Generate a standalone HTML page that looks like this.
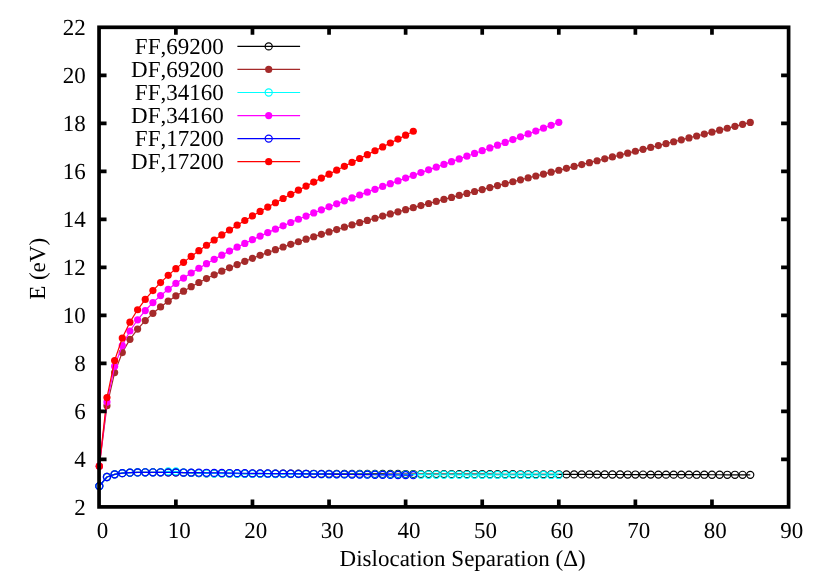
<!DOCTYPE html>
<html><head><meta charset="utf-8"><title>E vs Dislocation Separation</title>
<style>
html,body{margin:0;padding:0;background:#fff;}
svg{display:block;will-change:transform;}
text{font-family:"Liberation Serif",serif;font-size:23px;fill:#000;font-kerning:none;text-rendering:geometricPrecision;}
</style></head><body>
<svg width="830" height="581" viewBox="0 0 830 581">
<rect x="0" y="0" width="830" height="581" fill="#fff"/>

<g stroke="#000000" stroke-width="1.2" fill="none">
<text x="223.7" y="53.90" text-anchor="end" stroke="none">FF,69200</text>
<path d="M237.4 46.40H300.1"/>
<path d="M99.30 486.12L106.96 477.00L114.62 474.36L122.28 473.16L129.93 472.68L137.59 472.44L145.25 472.32L152.91 472.32L160.57 472.32L168.22 472.44L175.88 472.44L183.54 472.65L191.20 472.86L198.86 473.07L206.52 473.28L214.18 473.34L221.83 473.40L229.49 473.46L237.15 473.52L244.81 473.58L252.47 473.64L260.12 473.66L267.78 473.68L275.44 473.70L283.10 473.72L290.76 473.74L298.42 473.76L306.07 473.78L313.73 473.80L321.39 473.82L329.05 473.84L336.71 473.86L344.37 473.88L352.02 473.90L359.68 473.91L367.34 473.93L375.00 473.95L382.66 473.97L390.32 473.99L397.98 474.01L405.63 474.03L413.29 474.05L420.95 474.07L428.61 474.09L436.27 474.10L443.93 474.12L451.58 474.14L459.24 474.15L466.90 474.17L474.56 474.18L482.22 474.20L489.88 474.22L497.53 474.23L505.19 474.25L512.85 474.26L520.51 474.28L528.17 474.30L535.82 474.31L543.48 474.33L551.14 474.34L558.80 474.36L566.46 474.38L574.12 474.40L581.77 474.42L589.43 474.44L597.09 474.46L604.75 474.48L612.41 474.49L620.07 474.51L627.72 474.53L635.38 474.55L643.04 474.57L650.70 474.59L658.36 474.61L666.02 474.63L673.67 474.65L681.33 474.67L688.99 474.69L696.65 474.71L704.31 474.72L711.97 474.74L719.62 474.76L727.28 474.78L734.94 474.80L742.60 474.82L750.26 474.84" stroke-linejoin="round"/>
<circle cx="268.7" cy="46.40" r="3.55"/>
<circle cx="99.30" cy="486.12" r="3.55"/>
<circle cx="106.96" cy="477.00" r="3.55"/>
<circle cx="114.62" cy="474.36" r="3.55"/>
<circle cx="122.28" cy="473.16" r="3.55"/>
<circle cx="129.93" cy="472.68" r="3.55"/>
<circle cx="137.59" cy="472.44" r="3.55"/>
<circle cx="145.25" cy="472.32" r="3.55"/>
<circle cx="152.91" cy="472.32" r="3.55"/>
<circle cx="160.57" cy="472.32" r="3.55"/>
<circle cx="168.22" cy="472.44" r="3.55"/>
<circle cx="175.88" cy="472.44" r="3.55"/>
<circle cx="183.54" cy="472.65" r="3.55"/>
<circle cx="191.20" cy="472.86" r="3.55"/>
<circle cx="198.86" cy="473.07" r="3.55"/>
<circle cx="206.52" cy="473.28" r="3.55"/>
<circle cx="214.18" cy="473.34" r="3.55"/>
<circle cx="221.83" cy="473.40" r="3.55"/>
<circle cx="229.49" cy="473.46" r="3.55"/>
<circle cx="237.15" cy="473.52" r="3.55"/>
<circle cx="244.81" cy="473.58" r="3.55"/>
<circle cx="252.47" cy="473.64" r="3.55"/>
<circle cx="260.12" cy="473.66" r="3.55"/>
<circle cx="267.78" cy="473.68" r="3.55"/>
<circle cx="275.44" cy="473.70" r="3.55"/>
<circle cx="283.10" cy="473.72" r="3.55"/>
<circle cx="290.76" cy="473.74" r="3.55"/>
<circle cx="298.42" cy="473.76" r="3.55"/>
<circle cx="306.07" cy="473.78" r="3.55"/>
<circle cx="313.73" cy="473.80" r="3.55"/>
<circle cx="321.39" cy="473.82" r="3.55"/>
<circle cx="329.05" cy="473.84" r="3.55"/>
<circle cx="336.71" cy="473.86" r="3.55"/>
<circle cx="344.37" cy="473.88" r="3.55"/>
<circle cx="352.02" cy="473.90" r="3.55"/>
<circle cx="359.68" cy="473.91" r="3.55"/>
<circle cx="367.34" cy="473.93" r="3.55"/>
<circle cx="375.00" cy="473.95" r="3.55"/>
<circle cx="382.66" cy="473.97" r="3.55"/>
<circle cx="390.32" cy="473.99" r="3.55"/>
<circle cx="397.98" cy="474.01" r="3.55"/>
<circle cx="405.63" cy="474.03" r="3.55"/>
<circle cx="413.29" cy="474.05" r="3.55"/>
<circle cx="420.95" cy="474.07" r="3.55"/>
<circle cx="428.61" cy="474.09" r="3.55"/>
<circle cx="436.27" cy="474.10" r="3.55"/>
<circle cx="443.93" cy="474.12" r="3.55"/>
<circle cx="451.58" cy="474.14" r="3.55"/>
<circle cx="459.24" cy="474.15" r="3.55"/>
<circle cx="466.90" cy="474.17" r="3.55"/>
<circle cx="474.56" cy="474.18" r="3.55"/>
<circle cx="482.22" cy="474.20" r="3.55"/>
<circle cx="489.88" cy="474.22" r="3.55"/>
<circle cx="497.53" cy="474.23" r="3.55"/>
<circle cx="505.19" cy="474.25" r="3.55"/>
<circle cx="512.85" cy="474.26" r="3.55"/>
<circle cx="520.51" cy="474.28" r="3.55"/>
<circle cx="528.17" cy="474.30" r="3.55"/>
<circle cx="535.82" cy="474.31" r="3.55"/>
<circle cx="543.48" cy="474.33" r="3.55"/>
<circle cx="551.14" cy="474.34" r="3.55"/>
<circle cx="558.80" cy="474.36" r="3.55"/>
<circle cx="566.46" cy="474.38" r="3.55"/>
<circle cx="574.12" cy="474.40" r="3.55"/>
<circle cx="581.77" cy="474.42" r="3.55"/>
<circle cx="589.43" cy="474.44" r="3.55"/>
<circle cx="597.09" cy="474.46" r="3.55"/>
<circle cx="604.75" cy="474.48" r="3.55"/>
<circle cx="612.41" cy="474.49" r="3.55"/>
<circle cx="620.07" cy="474.51" r="3.55"/>
<circle cx="627.72" cy="474.53" r="3.55"/>
<circle cx="635.38" cy="474.55" r="3.55"/>
<circle cx="643.04" cy="474.57" r="3.55"/>
<circle cx="650.70" cy="474.59" r="3.55"/>
<circle cx="658.36" cy="474.61" r="3.55"/>
<circle cx="666.02" cy="474.63" r="3.55"/>
<circle cx="673.67" cy="474.65" r="3.55"/>
<circle cx="681.33" cy="474.67" r="3.55"/>
<circle cx="688.99" cy="474.69" r="3.55"/>
<circle cx="696.65" cy="474.71" r="3.55"/>
<circle cx="704.31" cy="474.72" r="3.55"/>
<circle cx="711.97" cy="474.74" r="3.55"/>
<circle cx="719.62" cy="474.76" r="3.55"/>
<circle cx="727.28" cy="474.78" r="3.55"/>
<circle cx="734.94" cy="474.80" r="3.55"/>
<circle cx="742.60" cy="474.82" r="3.55"/>
<circle cx="750.26" cy="474.84" r="3.55"/>
</g>
<g stroke="#a52a2a" stroke-width="1.2" fill="none">
<text x="223.7" y="76.95" text-anchor="end" stroke="none">DF,69200</text>
<path d="M237.4 69.45H300.1"/>
<path d="M99.30 466.20L106.96 405.77L114.62 372.60L122.28 352.56L129.93 339.35L137.59 329.08L145.25 320.60L152.91 313.33L160.57 306.93L168.22 301.19L175.88 295.97L183.54 291.16L191.20 286.69L198.86 282.49L206.52 278.54L214.18 274.79L221.83 271.22L229.49 267.81L237.15 264.53L244.81 261.37L252.47 258.31L260.12 255.36L267.78 252.49L275.44 249.71L283.10 246.99L290.76 244.34L298.42 241.75L306.07 239.21L313.73 236.73L321.39 234.29L329.05 231.89L336.71 229.54L344.37 227.22L352.02 224.93L359.68 222.68L367.34 220.46L375.00 218.26L382.66 216.09L390.32 213.94L397.98 211.82L405.63 209.71L413.29 207.63L420.95 205.56L428.61 203.51L436.27 201.47L443.93 199.45L451.58 197.44L459.24 195.45L466.90 193.46L474.56 191.49L482.22 189.53L489.88 187.57L497.53 185.62L505.19 183.68L512.85 181.75L520.51 179.82L528.17 177.90L535.82 175.98L543.48 174.07L551.14 172.16L558.80 170.26L566.46 168.36L574.12 166.45L581.77 164.56L589.43 162.66L597.09 160.76L604.75 158.86L612.41 156.97L620.07 155.07L627.72 153.17L635.38 151.27L643.04 149.37L650.70 147.47L658.36 145.56L666.02 143.65L673.67 141.74L681.33 139.83L688.99 137.91L696.65 135.99L704.31 134.06L711.97 132.13L719.62 130.19L727.28 128.25L734.94 126.30L742.60 124.35L750.26 122.39" stroke-linejoin="round"/>
<g fill="#a52a2a" stroke="none">
<circle cx="268.7" cy="69.45" r="3.6"/>
<circle cx="99.30" cy="466.20" r="3.6"/>
<circle cx="106.96" cy="405.77" r="3.6"/>
<circle cx="114.62" cy="372.60" r="3.6"/>
<circle cx="122.28" cy="352.56" r="3.6"/>
<circle cx="129.93" cy="339.35" r="3.6"/>
<circle cx="137.59" cy="329.08" r="3.6"/>
<circle cx="145.25" cy="320.60" r="3.6"/>
<circle cx="152.91" cy="313.33" r="3.6"/>
<circle cx="160.57" cy="306.93" r="3.6"/>
<circle cx="168.22" cy="301.19" r="3.6"/>
<circle cx="175.88" cy="295.97" r="3.6"/>
<circle cx="183.54" cy="291.16" r="3.6"/>
<circle cx="191.20" cy="286.69" r="3.6"/>
<circle cx="198.86" cy="282.49" r="3.6"/>
<circle cx="206.52" cy="278.54" r="3.6"/>
<circle cx="214.18" cy="274.79" r="3.6"/>
<circle cx="221.83" cy="271.22" r="3.6"/>
<circle cx="229.49" cy="267.81" r="3.6"/>
<circle cx="237.15" cy="264.53" r="3.6"/>
<circle cx="244.81" cy="261.37" r="3.6"/>
<circle cx="252.47" cy="258.31" r="3.6"/>
<circle cx="260.12" cy="255.36" r="3.6"/>
<circle cx="267.78" cy="252.49" r="3.6"/>
<circle cx="275.44" cy="249.71" r="3.6"/>
<circle cx="283.10" cy="246.99" r="3.6"/>
<circle cx="290.76" cy="244.34" r="3.6"/>
<circle cx="298.42" cy="241.75" r="3.6"/>
<circle cx="306.07" cy="239.21" r="3.6"/>
<circle cx="313.73" cy="236.73" r="3.6"/>
<circle cx="321.39" cy="234.29" r="3.6"/>
<circle cx="329.05" cy="231.89" r="3.6"/>
<circle cx="336.71" cy="229.54" r="3.6"/>
<circle cx="344.37" cy="227.22" r="3.6"/>
<circle cx="352.02" cy="224.93" r="3.6"/>
<circle cx="359.68" cy="222.68" r="3.6"/>
<circle cx="367.34" cy="220.46" r="3.6"/>
<circle cx="375.00" cy="218.26" r="3.6"/>
<circle cx="382.66" cy="216.09" r="3.6"/>
<circle cx="390.32" cy="213.94" r="3.6"/>
<circle cx="397.98" cy="211.82" r="3.6"/>
<circle cx="405.63" cy="209.71" r="3.6"/>
<circle cx="413.29" cy="207.63" r="3.6"/>
<circle cx="420.95" cy="205.56" r="3.6"/>
<circle cx="428.61" cy="203.51" r="3.6"/>
<circle cx="436.27" cy="201.47" r="3.6"/>
<circle cx="443.93" cy="199.45" r="3.6"/>
<circle cx="451.58" cy="197.44" r="3.6"/>
<circle cx="459.24" cy="195.45" r="3.6"/>
<circle cx="466.90" cy="193.46" r="3.6"/>
<circle cx="474.56" cy="191.49" r="3.6"/>
<circle cx="482.22" cy="189.53" r="3.6"/>
<circle cx="489.88" cy="187.57" r="3.6"/>
<circle cx="497.53" cy="185.62" r="3.6"/>
<circle cx="505.19" cy="183.68" r="3.6"/>
<circle cx="512.85" cy="181.75" r="3.6"/>
<circle cx="520.51" cy="179.82" r="3.6"/>
<circle cx="528.17" cy="177.90" r="3.6"/>
<circle cx="535.82" cy="175.98" r="3.6"/>
<circle cx="543.48" cy="174.07" r="3.6"/>
<circle cx="551.14" cy="172.16" r="3.6"/>
<circle cx="558.80" cy="170.26" r="3.6"/>
<circle cx="566.46" cy="168.36" r="3.6"/>
<circle cx="574.12" cy="166.45" r="3.6"/>
<circle cx="581.77" cy="164.56" r="3.6"/>
<circle cx="589.43" cy="162.66" r="3.6"/>
<circle cx="597.09" cy="160.76" r="3.6"/>
<circle cx="604.75" cy="158.86" r="3.6"/>
<circle cx="612.41" cy="156.97" r="3.6"/>
<circle cx="620.07" cy="155.07" r="3.6"/>
<circle cx="627.72" cy="153.17" r="3.6"/>
<circle cx="635.38" cy="151.27" r="3.6"/>
<circle cx="643.04" cy="149.37" r="3.6"/>
<circle cx="650.70" cy="147.47" r="3.6"/>
<circle cx="658.36" cy="145.56" r="3.6"/>
<circle cx="666.02" cy="143.65" r="3.6"/>
<circle cx="673.67" cy="141.74" r="3.6"/>
<circle cx="681.33" cy="139.83" r="3.6"/>
<circle cx="688.99" cy="137.91" r="3.6"/>
<circle cx="696.65" cy="135.99" r="3.6"/>
<circle cx="704.31" cy="134.06" r="3.6"/>
<circle cx="711.97" cy="132.13" r="3.6"/>
<circle cx="719.62" cy="130.19" r="3.6"/>
<circle cx="727.28" cy="128.25" r="3.6"/>
<circle cx="734.94" cy="126.30" r="3.6"/>
<circle cx="742.60" cy="124.35" r="3.6"/>
<circle cx="750.26" cy="122.39" r="3.6"/>
</g>
</g>
<g stroke="#00ffff" stroke-width="1.2" fill="none">
<text x="223.7" y="100.00" text-anchor="end" stroke="none">FF,34160</text>
<path d="M237.4 92.50H300.1"/>
<path d="M99.30 486.12L106.96 477.00L114.62 474.36L122.28 473.16L129.93 472.68L137.59 472.44L145.25 472.32L152.91 472.32L160.57 472.32L168.22 471.36L175.88 471.36L183.54 472.68L191.20 472.92L198.86 473.16L206.52 473.40L214.18 473.48L221.83 473.56L229.49 473.64L237.15 473.72L244.81 473.80L252.47 473.88L260.12 473.92L267.78 473.96L275.44 473.99L283.10 474.03L290.76 474.07L298.42 474.11L306.07 474.15L313.73 474.19L321.39 474.22L329.05 474.26L336.71 474.30L344.37 474.34L352.02 474.38L359.68 474.41L367.34 474.45L375.00 474.49L382.66 474.53L390.32 474.57L397.98 474.61L405.63 474.64L413.29 474.68L420.95 474.72L428.61 474.73L436.27 474.75L443.93 474.76L451.58 474.77L459.24 474.79L466.90 474.80L474.56 474.81L482.22 474.83L489.88 474.84L497.53 474.85L505.19 474.87L512.85 474.88L520.51 474.89L528.17 474.91L535.82 474.92L543.48 474.93L551.14 474.95L558.80 474.96" stroke-linejoin="round"/>
<circle cx="268.7" cy="92.50" r="3.55"/>
<circle cx="99.30" cy="486.12" r="3.55"/>
<circle cx="106.96" cy="477.00" r="3.55"/>
<circle cx="114.62" cy="474.36" r="3.55"/>
<circle cx="122.28" cy="473.16" r="3.55"/>
<circle cx="129.93" cy="472.68" r="3.55"/>
<circle cx="137.59" cy="472.44" r="3.55"/>
<circle cx="145.25" cy="472.32" r="3.55"/>
<circle cx="152.91" cy="472.32" r="3.55"/>
<circle cx="160.57" cy="472.32" r="3.55"/>
<circle cx="168.22" cy="471.36" r="3.55"/>
<circle cx="175.88" cy="471.36" r="3.55"/>
<circle cx="183.54" cy="472.68" r="3.55"/>
<circle cx="191.20" cy="472.92" r="3.55"/>
<circle cx="198.86" cy="473.16" r="3.55"/>
<circle cx="206.52" cy="473.40" r="3.55"/>
<circle cx="214.18" cy="473.48" r="3.55"/>
<circle cx="221.83" cy="473.56" r="3.55"/>
<circle cx="229.49" cy="473.64" r="3.55"/>
<circle cx="237.15" cy="473.72" r="3.55"/>
<circle cx="244.81" cy="473.80" r="3.55"/>
<circle cx="252.47" cy="473.88" r="3.55"/>
<circle cx="260.12" cy="473.92" r="3.55"/>
<circle cx="267.78" cy="473.96" r="3.55"/>
<circle cx="275.44" cy="473.99" r="3.55"/>
<circle cx="283.10" cy="474.03" r="3.55"/>
<circle cx="290.76" cy="474.07" r="3.55"/>
<circle cx="298.42" cy="474.11" r="3.55"/>
<circle cx="306.07" cy="474.15" r="3.55"/>
<circle cx="313.73" cy="474.19" r="3.55"/>
<circle cx="321.39" cy="474.22" r="3.55"/>
<circle cx="329.05" cy="474.26" r="3.55"/>
<circle cx="336.71" cy="474.30" r="3.55"/>
<circle cx="344.37" cy="474.34" r="3.55"/>
<circle cx="352.02" cy="474.38" r="3.55"/>
<circle cx="359.68" cy="474.41" r="3.55"/>
<circle cx="367.34" cy="474.45" r="3.55"/>
<circle cx="375.00" cy="474.49" r="3.55"/>
<circle cx="382.66" cy="474.53" r="3.55"/>
<circle cx="390.32" cy="474.57" r="3.55"/>
<circle cx="397.98" cy="474.61" r="3.55"/>
<circle cx="405.63" cy="474.64" r="3.55"/>
<circle cx="413.29" cy="474.68" r="3.55"/>
<circle cx="420.95" cy="474.72" r="3.55"/>
<circle cx="428.61" cy="474.73" r="3.55"/>
<circle cx="436.27" cy="474.75" r="3.55"/>
<circle cx="443.93" cy="474.76" r="3.55"/>
<circle cx="451.58" cy="474.77" r="3.55"/>
<circle cx="459.24" cy="474.79" r="3.55"/>
<circle cx="466.90" cy="474.80" r="3.55"/>
<circle cx="474.56" cy="474.81" r="3.55"/>
<circle cx="482.22" cy="474.83" r="3.55"/>
<circle cx="489.88" cy="474.84" r="3.55"/>
<circle cx="497.53" cy="474.85" r="3.55"/>
<circle cx="505.19" cy="474.87" r="3.55"/>
<circle cx="512.85" cy="474.88" r="3.55"/>
<circle cx="520.51" cy="474.89" r="3.55"/>
<circle cx="528.17" cy="474.91" r="3.55"/>
<circle cx="535.82" cy="474.92" r="3.55"/>
<circle cx="543.48" cy="474.93" r="3.55"/>
<circle cx="551.14" cy="474.95" r="3.55"/>
<circle cx="558.80" cy="474.96" r="3.55"/>
</g>
<g stroke="#ff00ff" stroke-width="1.2" fill="none">
<text x="223.7" y="123.05" text-anchor="end" stroke="none">DF,34160</text>
<path d="M237.4 115.55H300.1"/>
<path d="M99.30 466.20L106.96 402.03L114.62 366.28L122.28 345.55L129.93 331.02L137.59 319.78L145.25 310.53L152.91 302.60L160.57 295.60L168.22 289.27L175.88 283.47L183.54 278.08L191.20 273.02L198.86 268.24L206.52 263.69L214.18 259.33L221.83 255.14L229.49 251.09L237.15 247.18L244.81 243.39L252.47 239.69L260.12 236.10L267.78 232.58L275.44 229.15L283.10 225.79L290.76 222.49L298.42 219.25L306.07 216.07L313.73 212.94L321.39 209.85L329.05 206.81L336.71 203.81L344.37 200.85L352.02 197.92L359.68 195.02L367.34 192.15L375.00 189.30L382.66 186.47L390.32 183.67L397.98 180.88L405.63 178.11L413.29 175.35L420.95 172.61L428.61 169.86L436.27 167.13L443.93 164.40L451.58 161.67L459.24 158.94L466.90 156.20L474.56 153.46L482.22 150.72L489.88 147.96L497.53 145.19L505.19 142.41L512.85 139.61L520.51 136.79L528.17 133.95L535.82 131.09L543.48 128.20L551.14 125.29L558.80 122.35" stroke-linejoin="round"/>
<g fill="#ff00ff" stroke="none">
<circle cx="268.7" cy="115.55" r="3.6"/>
<circle cx="99.30" cy="466.20" r="3.6"/>
<circle cx="106.96" cy="402.03" r="3.6"/>
<circle cx="114.62" cy="366.28" r="3.6"/>
<circle cx="122.28" cy="345.55" r="3.6"/>
<circle cx="129.93" cy="331.02" r="3.6"/>
<circle cx="137.59" cy="319.78" r="3.6"/>
<circle cx="145.25" cy="310.53" r="3.6"/>
<circle cx="152.91" cy="302.60" r="3.6"/>
<circle cx="160.57" cy="295.60" r="3.6"/>
<circle cx="168.22" cy="289.27" r="3.6"/>
<circle cx="175.88" cy="283.47" r="3.6"/>
<circle cx="183.54" cy="278.08" r="3.6"/>
<circle cx="191.20" cy="273.02" r="3.6"/>
<circle cx="198.86" cy="268.24" r="3.6"/>
<circle cx="206.52" cy="263.69" r="3.6"/>
<circle cx="214.18" cy="259.33" r="3.6"/>
<circle cx="221.83" cy="255.14" r="3.6"/>
<circle cx="229.49" cy="251.09" r="3.6"/>
<circle cx="237.15" cy="247.18" r="3.6"/>
<circle cx="244.81" cy="243.39" r="3.6"/>
<circle cx="252.47" cy="239.69" r="3.6"/>
<circle cx="260.12" cy="236.10" r="3.6"/>
<circle cx="267.78" cy="232.58" r="3.6"/>
<circle cx="275.44" cy="229.15" r="3.6"/>
<circle cx="283.10" cy="225.79" r="3.6"/>
<circle cx="290.76" cy="222.49" r="3.6"/>
<circle cx="298.42" cy="219.25" r="3.6"/>
<circle cx="306.07" cy="216.07" r="3.6"/>
<circle cx="313.73" cy="212.94" r="3.6"/>
<circle cx="321.39" cy="209.85" r="3.6"/>
<circle cx="329.05" cy="206.81" r="3.6"/>
<circle cx="336.71" cy="203.81" r="3.6"/>
<circle cx="344.37" cy="200.85" r="3.6"/>
<circle cx="352.02" cy="197.92" r="3.6"/>
<circle cx="359.68" cy="195.02" r="3.6"/>
<circle cx="367.34" cy="192.15" r="3.6"/>
<circle cx="375.00" cy="189.30" r="3.6"/>
<circle cx="382.66" cy="186.47" r="3.6"/>
<circle cx="390.32" cy="183.67" r="3.6"/>
<circle cx="397.98" cy="180.88" r="3.6"/>
<circle cx="405.63" cy="178.11" r="3.6"/>
<circle cx="413.29" cy="175.35" r="3.6"/>
<circle cx="420.95" cy="172.61" r="3.6"/>
<circle cx="428.61" cy="169.86" r="3.6"/>
<circle cx="436.27" cy="167.13" r="3.6"/>
<circle cx="443.93" cy="164.40" r="3.6"/>
<circle cx="451.58" cy="161.67" r="3.6"/>
<circle cx="459.24" cy="158.94" r="3.6"/>
<circle cx="466.90" cy="156.20" r="3.6"/>
<circle cx="474.56" cy="153.46" r="3.6"/>
<circle cx="482.22" cy="150.72" r="3.6"/>
<circle cx="489.88" cy="147.96" r="3.6"/>
<circle cx="497.53" cy="145.19" r="3.6"/>
<circle cx="505.19" cy="142.41" r="3.6"/>
<circle cx="512.85" cy="139.61" r="3.6"/>
<circle cx="520.51" cy="136.79" r="3.6"/>
<circle cx="528.17" cy="133.95" r="3.6"/>
<circle cx="535.82" cy="131.09" r="3.6"/>
<circle cx="543.48" cy="128.20" r="3.6"/>
<circle cx="551.14" cy="125.29" r="3.6"/>
<circle cx="558.80" cy="122.35" r="3.6"/>
</g>
</g>
<g stroke="#0000ff" stroke-width="1.2" fill="none">
<text x="223.7" y="146.10" text-anchor="end" stroke="none">FF,17200</text>
<path d="M237.4 138.60H300.1"/>
<path d="M99.30 486.12L106.96 477.00L114.62 474.36L122.28 473.16L129.93 472.68L137.59 472.44L145.25 472.32L152.91 472.32L160.57 472.32L168.22 472.44L175.88 472.44L183.54 472.53L191.20 472.62L198.86 472.71L206.52 472.80L214.18 472.88L221.83 472.97L229.49 473.06L237.15 473.15L244.81 473.24L252.47 473.33L260.12 473.42L267.78 473.51L275.44 473.59L283.10 473.68L290.76 473.77L298.42 473.86L306.07 473.95L313.73 474.04L321.39 474.13L329.05 474.22L336.71 474.30L344.37 474.39L352.02 474.48L359.68 474.57L367.34 474.66L375.00 474.75L382.66 474.84L390.32 474.93L397.98 475.02L405.63 475.10L413.29 475.19" stroke-linejoin="round"/>
<circle cx="268.7" cy="138.60" r="3.55"/>
<circle cx="99.30" cy="486.12" r="3.55"/>
<circle cx="106.96" cy="477.00" r="3.55"/>
<circle cx="114.62" cy="474.36" r="3.55"/>
<circle cx="122.28" cy="473.16" r="3.55"/>
<circle cx="129.93" cy="472.68" r="3.55"/>
<circle cx="137.59" cy="472.44" r="3.55"/>
<circle cx="145.25" cy="472.32" r="3.55"/>
<circle cx="152.91" cy="472.32" r="3.55"/>
<circle cx="160.57" cy="472.32" r="3.55"/>
<circle cx="168.22" cy="472.44" r="3.55"/>
<circle cx="175.88" cy="472.44" r="3.55"/>
<circle cx="183.54" cy="472.53" r="3.55"/>
<circle cx="191.20" cy="472.62" r="3.55"/>
<circle cx="198.86" cy="472.71" r="3.55"/>
<circle cx="206.52" cy="472.80" r="3.55"/>
<circle cx="214.18" cy="472.88" r="3.55"/>
<circle cx="221.83" cy="472.97" r="3.55"/>
<circle cx="229.49" cy="473.06" r="3.55"/>
<circle cx="237.15" cy="473.15" r="3.55"/>
<circle cx="244.81" cy="473.24" r="3.55"/>
<circle cx="252.47" cy="473.33" r="3.55"/>
<circle cx="260.12" cy="473.42" r="3.55"/>
<circle cx="267.78" cy="473.51" r="3.55"/>
<circle cx="275.44" cy="473.59" r="3.55"/>
<circle cx="283.10" cy="473.68" r="3.55"/>
<circle cx="290.76" cy="473.77" r="3.55"/>
<circle cx="298.42" cy="473.86" r="3.55"/>
<circle cx="306.07" cy="473.95" r="3.55"/>
<circle cx="313.73" cy="474.04" r="3.55"/>
<circle cx="321.39" cy="474.13" r="3.55"/>
<circle cx="329.05" cy="474.22" r="3.55"/>
<circle cx="336.71" cy="474.30" r="3.55"/>
<circle cx="344.37" cy="474.39" r="3.55"/>
<circle cx="352.02" cy="474.48" r="3.55"/>
<circle cx="359.68" cy="474.57" r="3.55"/>
<circle cx="367.34" cy="474.66" r="3.55"/>
<circle cx="375.00" cy="474.75" r="3.55"/>
<circle cx="382.66" cy="474.84" r="3.55"/>
<circle cx="390.32" cy="474.93" r="3.55"/>
<circle cx="397.98" cy="475.02" r="3.55"/>
<circle cx="405.63" cy="475.10" r="3.55"/>
<circle cx="413.29" cy="475.19" r="3.55"/>
</g>
<g stroke="#ff0000" stroke-width="1.2" fill="none">
<text x="223.7" y="169.15" text-anchor="end" stroke="none">DF,17200</text>
<path d="M237.4 161.65H300.1"/>
<path d="M99.30 466.20L106.96 397.57L114.62 360.51L122.28 338.07L129.93 322.17L137.59 309.77L145.25 299.47L152.91 290.56L160.57 282.61L168.22 275.36L175.88 268.65L183.54 262.35L191.20 256.39L198.86 250.71L206.52 245.26L214.18 240.01L221.83 234.92L229.49 229.99L237.15 225.20L244.81 220.52L252.47 215.94L260.12 211.46L267.78 207.07L275.44 202.76L283.10 198.51L290.76 194.33L298.42 190.20L306.07 186.12L313.73 182.09L321.39 178.10L329.05 174.14L336.71 170.20L344.37 166.29L352.02 162.40L359.68 158.51L367.34 154.64L375.00 150.77L382.66 146.89L390.32 143.00L397.98 139.11L405.63 135.19L413.29 131.25" stroke-linejoin="round"/>
<g fill="#ff0000" stroke="none">
<circle cx="268.7" cy="161.65" r="3.6"/>
<circle cx="99.30" cy="466.20" r="3.6"/>
<circle cx="106.96" cy="397.57" r="3.6"/>
<circle cx="114.62" cy="360.51" r="3.6"/>
<circle cx="122.28" cy="338.07" r="3.6"/>
<circle cx="129.93" cy="322.17" r="3.6"/>
<circle cx="137.59" cy="309.77" r="3.6"/>
<circle cx="145.25" cy="299.47" r="3.6"/>
<circle cx="152.91" cy="290.56" r="3.6"/>
<circle cx="160.57" cy="282.61" r="3.6"/>
<circle cx="168.22" cy="275.36" r="3.6"/>
<circle cx="175.88" cy="268.65" r="3.6"/>
<circle cx="183.54" cy="262.35" r="3.6"/>
<circle cx="191.20" cy="256.39" r="3.6"/>
<circle cx="198.86" cy="250.71" r="3.6"/>
<circle cx="206.52" cy="245.26" r="3.6"/>
<circle cx="214.18" cy="240.01" r="3.6"/>
<circle cx="221.83" cy="234.92" r="3.6"/>
<circle cx="229.49" cy="229.99" r="3.6"/>
<circle cx="237.15" cy="225.20" r="3.6"/>
<circle cx="244.81" cy="220.52" r="3.6"/>
<circle cx="252.47" cy="215.94" r="3.6"/>
<circle cx="260.12" cy="211.46" r="3.6"/>
<circle cx="267.78" cy="207.07" r="3.6"/>
<circle cx="275.44" cy="202.76" r="3.6"/>
<circle cx="283.10" cy="198.51" r="3.6"/>
<circle cx="290.76" cy="194.33" r="3.6"/>
<circle cx="298.42" cy="190.20" r="3.6"/>
<circle cx="306.07" cy="186.12" r="3.6"/>
<circle cx="313.73" cy="182.09" r="3.6"/>
<circle cx="321.39" cy="178.10" r="3.6"/>
<circle cx="329.05" cy="174.14" r="3.6"/>
<circle cx="336.71" cy="170.20" r="3.6"/>
<circle cx="344.37" cy="166.29" r="3.6"/>
<circle cx="352.02" cy="162.40" r="3.6"/>
<circle cx="359.68" cy="158.51" r="3.6"/>
<circle cx="367.34" cy="154.64" r="3.6"/>
<circle cx="375.00" cy="150.77" r="3.6"/>
<circle cx="382.66" cy="146.89" r="3.6"/>
<circle cx="390.32" cy="143.00" r="3.6"/>
<circle cx="397.98" cy="139.11" r="3.6"/>
<circle cx="405.63" cy="135.19" r="3.6"/>
<circle cx="413.29" cy="131.25" r="3.6"/>
</g>
</g>
<g stroke="#000" stroke-width="3.7" fill="none" stroke-linecap="butt">
<path d="M175.88 506.9v-7.5M175.88 27.3v7.5M252.47 506.9v-7.5M252.47 27.3v7.5M329.05 506.9v-7.5M329.05 27.3v7.5M405.63 506.9v-7.5M405.63 27.3v7.5M482.22 506.9v-7.5M482.22 27.3v7.5M558.80 506.9v-7.5M558.80 27.3v7.5M635.38 506.9v-7.5M635.38 27.3v7.5M711.97 506.9v-7.5M711.97 27.3v7.5M99.05 459.30h7.5M788.6 459.30h-7.5M99.05 411.30h7.5M788.6 411.30h-7.5M99.05 363.30h7.5M788.6 363.30h-7.5M99.05 315.30h7.5M788.6 315.30h-7.5M99.05 267.30h7.5M788.6 267.30h-7.5M99.05 219.30h7.5M788.6 219.30h-7.5M99.05 171.30h7.5M788.6 171.30h-7.5M99.05 123.30h7.5M788.6 123.30h-7.5M99.05 75.30h7.5M788.6 75.30h-7.5"/>
<rect x="99.05" y="27.3" width="689.55" height="479.60" stroke-linejoin="miter"/>
</g>
<text x="102.60" y="538.4" text-anchor="middle">0</text>
<text x="179.18" y="538.4" text-anchor="middle">10</text>
<text x="255.77" y="538.4" text-anchor="middle">20</text>
<text x="332.35" y="538.4" text-anchor="middle">30</text>
<text x="408.93" y="538.4" text-anchor="middle">40</text>
<text x="485.52" y="538.4" text-anchor="middle">50</text>
<text x="562.10" y="538.4" text-anchor="middle">60</text>
<text x="638.68" y="538.4" text-anchor="middle">70</text>
<text x="715.27" y="538.4" text-anchor="middle">80</text>
<text x="791.85" y="538.4" text-anchor="middle">90</text>
<text x="85.7" y="514.50" text-anchor="end">2</text>
<text x="85.7" y="466.50" text-anchor="end">4</text>
<text x="85.7" y="418.50" text-anchor="end">6</text>
<text x="85.7" y="370.50" text-anchor="end">8</text>
<text x="85.7" y="322.50" text-anchor="end">10</text>
<text x="85.7" y="274.50" text-anchor="end">12</text>
<text x="85.7" y="226.50" text-anchor="end">14</text>
<text x="85.7" y="178.50" text-anchor="end">16</text>
<text x="85.7" y="130.50" text-anchor="end">18</text>
<text x="85.7" y="82.50" text-anchor="end">20</text>
<text x="85.7" y="34.50" text-anchor="end">22</text>
<text x="462.6" y="566.1" text-anchor="middle">Dislocation Separation (Δ)</text>
<text transform="translate(45.3 268.9) rotate(-90)" text-anchor="middle">E (eV)</text>
</svg></body></html>
